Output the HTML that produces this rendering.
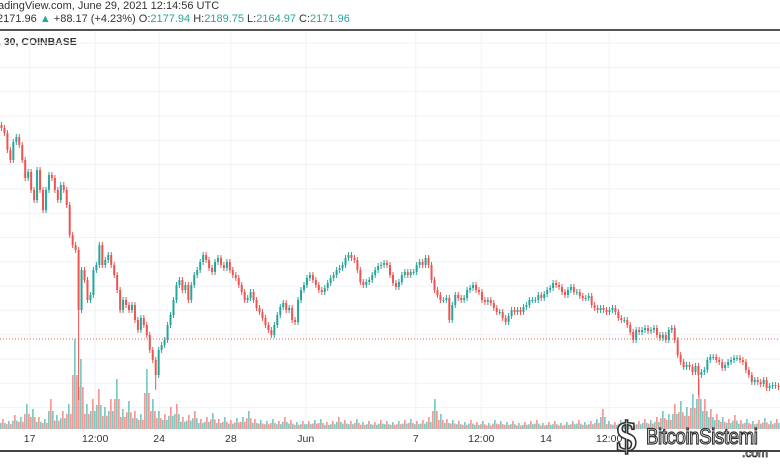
<!DOCTYPE html>
<html><head><meta charset="utf-8"><style>
body{margin:0;width:780px;height:470px;overflow:hidden;background:#fff;font-family:"Liberation Sans",sans-serif;position:relative}
.t{position:absolute;font-size:11px;color:#333;white-space:nowrap}
.g{color:#26a69a}
</style></head><body>
<div class="t" style="left:-12px;top:0px">TradingView.com, June 29, 2021 12:14:56 UTC</div>
<div class="t" style="left:-3px;top:13px">2171.96 <span class="g">▲</span> +88.17 (+4.23%) O:<span class="g">2177.94</span> H:<span class="g">2189.75</span> L:<span class="g">2164.97</span> C:<span class="g">2171.96</span></div>
<div style="position:absolute;left:0;top:29px;width:780px;height:2px;background:#555"></div>
<div class="t" style="left:-2px;top:36px;font-weight:bold;font-size:10.5px">, 30, COINBASE</div>
<svg id="chart" width="780" height="470" style="position:absolute;left:0;top:0"></svg>
<div style="position:absolute;left:0;top:450px;width:780px;height:2px;background:#444"></div>
<script>
const closes=[2372,2367,2350,2340,2358,2363,2355,2340,2322,2328,2310,2300,2330,2310,2290,2310,2325,2322,2310,2300,2315,2310,2295,2265,2255,2250,2190,2230,2220,2200,2205,2230,2235,2255,2235,2240,2245,2235,2225,2210,2190,2200,2195,2190,2195,2180,2170,2182,2175,2165,2150,2140,2125,2150,2155,2160,2175,2185,2200,2215,2220,2210,2215,2200,2215,2225,2230,2238,2245,2240,2232,2228,2238,2242,2235,2232,2238,2230,2225,2222,2215,2208,2200,2202,2208,2200,2192,2188,2182,2175,2170,2165,2175,2185,2193,2197,2190,2192,2180,2178,2200,2210,2215,2222,2225,2220,2215,2210,2208,2212,2217,2222,2225,2230,2232,2235,2242,2245,2242,2240,2230,2218,2215,2218,2220,2225,2230,2234,2235,2237,2235,2225,2217,2213,2218,2225,2228,2225,2228,2228,2235,2238,2235,2242,2235,2220,2210,2205,2200,2200,2202,2180,2195,2205,2202,2200,2202,2210,2212,2215,2210,2208,2200,2198,2200,2197,2192,2188,2188,2182,2178,2184,2190,2188,2190,2188,2193,2195,2200,2200,2200,2205,2202,2206,2210,2212,2217,2215,2213,2208,2205,2210,2213,2208,2208,2204,2202,2202,2204,2195,2192,2190,2192,2190,2188,2190,2192,2188,2182,2180,2180,2175,2168,2160,2170,2168,2170,2172,2169,2170,2172,2165,2162,2165,2160,2170,2172,2160,2145,2138,2133,2135,2133,2128,2134,2125,2128,2130,2140,2143,2143,2140,2138,2132,2135,2138,2140,2142,2142,2140,2138,2130,2125,2118,2120,2118,2116,2120,2112,2114,2115,2114,2113];
const spikeIdx=[26,52,-28];
const spikeLow=[2100,2110,2105];
const volumes=[10,8,14,12,25,20,12,10,30,14,18,25,90,70,25,30,40,22,30,50,20,28,18,15,60,30,18,15,22,25,12,14,18,10,12,16,10,12,9,11,12,18,10,9,8,10,8,12,9,7,8,8,9,10,7,8,12,9,8,10,7,8,7,9,8,7,8,9,10,8,9,12,30,15,10,9,8,7,9,7,8,6,9,8,7,8,6,7,8,9,6,7,8,6,7,8,9,7,8,10,20,8,7,9,8,7,8,10,9,12,18,15,25,28,22,35,50,30,20,15,12,10,14,9,10,8,9,11,8,10];
const xLabels=["17","12:00","24","28","Jun","7","12:00","14","12:00"];
const xLabelPos=[0.038,0.122,0.204,0.296,0.392,0.533,0.617,0.7,0.781];
const priceLine=2161;
const NS="http://www.w3.org/2000/svg";
const svg=document.getElementById('chart');
function mk(t,a){const e=document.createElementNS(NS,t);for(const k in a)e.setAttribute(k,a[k]);svg.appendChild(e);return e;}
const W=780,pMax=2400,plotTop=100;
function y(p){return plotTop+(pMax-p);}
const n=closes.length;
function x(i){return (i+0.5)*W/n;}
for(let k=-3;k<13;k++){const gy=116+k*24.3;if(gy<32||gy>430)continue;
 const l=mk('line',{x1:0,x2:W,y1:gy,y2:gy,stroke:'#f0f2f6','stroke-width':1});
 
 }
xLabelPos.forEach((f,i)=>{const gx=f*W;
 const l=mk('line',{x1:gx,x2:gx,y1:32,y2:430,stroke:'#f0f2f6','stroke-width':1});
 
 
 const t=mk('text',{x:gx,y:442,'font-size':10.5,'text-anchor':'middle',fill:'#333','font-family':'Liberation Sans, sans-serif'});
 t.textContent=xLabels[i];
 
 });
const vw=W/volumes.length;
volumes.forEach((v,i)=>{const ci=Math.min(n-1,Math.floor(i*n/volumes.length));
 const up=ci>0?closes[ci]>=closes[ci-1]:true;
 for(let s=0;s<3;s++){const h=v*(s==1?1:0.6);
 const r=mk('rect',{x:i*vw+s*vw/3,y:429-h,width:vw/3-0.3,height:h,fill:((up?1:0)^(s==1?1:0))?'#26a69a':'#ef5350',opacity:0.6});
 
 }});
const pl=mk('line',{x1:0,x2:W,y1:y(priceLine),y2:y(priceLine),stroke:'#ef5350','stroke-width':1,'stroke-dasharray':'1,2'});


const lows={};spikeIdx.forEach((s,j)=>{lows[s<0?n+s:s]=spikeLow[j];});
for(let i=0;i<n;i++){const o=i?closes[i-1]:closes[0]+3,c=closes[i];
 const up=c>=o,col=up?'#26a69a':'#ef5350';
 const hi=Math.max(o,c)+3,lo=lows[i]!==undefined?lows[i]:Math.min(o,c)-3;
 const w=mk('line',{x1:x(i),x2:x(i),y1:y(hi),y2:y(lo),stroke:col,'stroke-width':1});
 
 
 const b=mk('rect',{x:x(i)-1,y:y(Math.max(o,c)),width:2,height:Math.max(1,Math.abs(o-c)),fill:col});
 
 }
</script>
<div style="position:absolute;left:612px;top:416px;width:168px;height:50px">
 <div style="position:absolute;left:4px;top:-2px;font:bold 42px 'Liberation Serif',serif;color:#fff;-webkit-text-stroke:1.6px #333">$</div>
 <div style="position:absolute;left:34px;top:8px;font:22px 'Liberation Sans Narrow','Liberation Sans',sans-serif;color:#fff;-webkit-text-stroke:1.2px #333;letter-spacing:-0.5px;transform:scaleX(0.85);transform-origin:left">BitcoinSistemi</div>
 <div style="position:absolute;left:130px;top:30px;font:12px 'Liberation Sans',sans-serif;color:#fff;-webkit-text-stroke:0.8px #333">.com</div>
</div>
</body></html>
